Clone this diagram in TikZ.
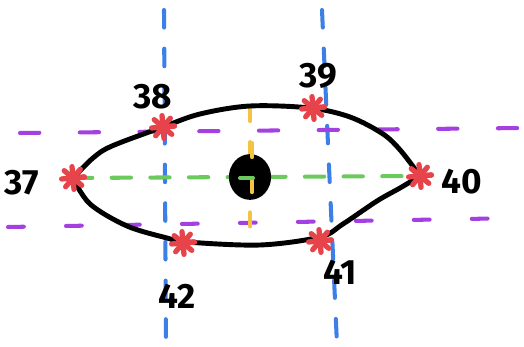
\documentclass[tikz,border=0pt]{standalone}
\usepackage{fontspec}
\setmainfont{Fira Sans}
\usepackage{tikz}
\usetikzlibrary{positioning,calc}
\definecolor{azure}{HTML}{3C7FE6}
\definecolor{violet}{HTML}{A43FE2}
\definecolor{leaf}{HTML}{6CC95E}
\definecolor{amber}{HTML}{F3C341}
\definecolor{tomato}{HTML}{E6444A}
\colorlet{lid}{black}

\tikzset{
  guide/.style={line width=2.3pt,line cap=round,dash pattern=on 10pt off 12pt},
  outline/.style={lid,line width=2.8pt,line cap=round,line join=round},
  num/.style={font=\bfseries\fontsize{20}{20}\selectfont,inner sep=0pt},
  burst/.pic={
    \foreach \a in {5,50,...,365}
      \draw[tomato,line width=3pt,line cap=round] (0,0) -- (\a:6.5pt);
  }
}

\begin{document}
\begin{tikzpicture}[x=0.02cm,y=-0.02cm]
    \useasboundingbox (0,0) rectangle (524,347);

    % corner / crossing points
    \coordinate (p37) at (73,178);
    \coordinate (p38) at (163,127);
    \coordinate (p39) at (313,108);
    \coordinate (p40) at (420,176);
    \coordinate (p41) at (320,241);
    \coordinate (p42) at (183,243);

    % guide lines
    \draw[guide,azure] (164,10) -- (166,345);
    \draw[guide,azure] (322,10) -- (337,345);
    \draw[guide,violet,dash pattern=on 11pt off 23pt] (20,133) -- (524,128);
    \draw[guide,violet,dash pattern=on 9pt off 24pt] (8,227) -- (522,218);
    \draw[guide,amber,dash pattern=on 8pt off 12pt] (250,107) -- (250,246);

    % eye outline
    \draw[outline] plot[smooth,tension=0.55] coordinates {(73,178) (93,158) (112,146)
      (163,127) (200,114) (250,106) (310,108) (350,117) (383,134) (401,151) (420,176)};
    \draw[outline] plot[smooth,tension=0.55] coordinates {(73,178) (90,204) (127,226)
      (167,238) (187,242) (260,245) (320,237) (343,224) (377,201) (400,188) (420,176)};

    \draw[guide,leaf,dash pattern=on 11pt off 11pt] (p37) -- (p40);

    % pupil
    \fill[lid] (250,177) ellipse [x radius=12pt,y radius=13pt];
    \draw[guide,amber,dash pattern=on 8pt off 12pt] (252,143) -- (252,203);
    \draw[leaf,line width=2.3pt,line cap=round] (240,178) -- (253,178);

    \foreach \p in {p37,p38,p39,p40,p41,p42}
      \pic at (\p) {burst};

    % labels
    \node[num] (l37) at (22,183) {37};
    \node[num] (l38) at (153,97) {38};
    \node[num] (l39) at (318,76) {39};
    \node[num] (l40) at (462,182) {40};
    \node[num] (l41) at (340,272) {41};
    \node[num] (l42) at (177,296) {42};
\end{tikzpicture}
\end{document}
